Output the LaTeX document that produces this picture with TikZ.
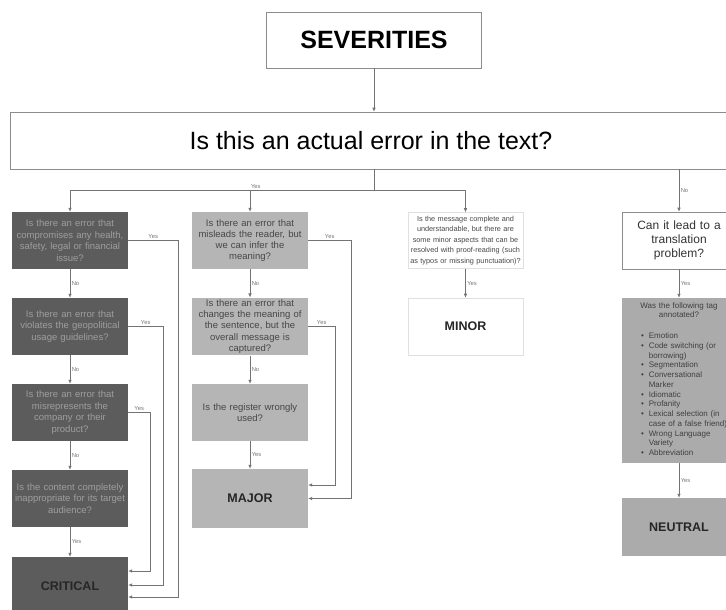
\documentclass[tikz,border=0pt]{standalone}
\usepackage{fontspec}
\setmainfont{Liberation Sans}
\usetikzlibrary{positioning, calc, arrows.meta}

\begin{document}
\begin{tikzpicture}[x=1pt, y=-1pt, >={Latex[length=4pt,width=3.5pt]},
    conn/.style={draw=black!55, line width=0.6pt},
    lbl/.style={font=\fontsize{5.8}{6}\selectfont, text=black!55, inner sep=1.5pt},
    qbox/.style={draw=black!45, line width=0.6pt, fill=white, align=center, inner sep=2pt},
    crit/.style={fill=black!64, text=black!38, align=center, text width=112pt, minimum height=57pt, inner sep=2pt, font=\fontsize{9.5}{11.5}\selectfont},
    major/.style={fill=black!29, text=black!72, align=center, text width=112pt, minimum height=57pt, inner sep=2pt, font=\fontsize{9.5}{11.2}\selectfont},
    minor/.style={draw=black!12, line width=0.6pt, fill=white, text=black!72, align=center, text width=111pt, minimum height=56pt, inner sep=2pt, font=\fontsize{7.3}{10.5}\selectfont},
    neutral/.style={fill=black!33, text=black!75, align=center, text width=110pt, inner sep=2pt},
    result/.style={font=\fontsize{12.5}{15}\selectfont\bfseries, text=black!85}
  ]
  \useasboundingbox (0,0) rectangle (726,610);

  % top
  \node[qbox, minimum width=215pt, minimum height=56pt, font=\fontsize{25}{30}\selectfont\bfseries] (sev) at (374,40) {SEVERITIES};
  \node[qbox, minimum width=722pt, minimum height=57pt, font=\fontsize{25}{30}\selectfont] (err) at (371,140.5) {Is this an actual error in the text?};

  % critical column
  \node[crit] (c1) at (70,240.5) {Is there an error that\\compromises any health,\\safety, legal or financial\\issue?};
  \node[crit] (c2) at (70,326.5) {Is there an error that\\violates the geopolitical\\usage guidelines?};
  \node[crit] (c3) at (70,412.5) {Is there an error that\\misrepresents the\\company or their\\product?};
  \node[crit] (c4) at (70,498.5) {Is the content completely\\inappropriate for its target\\audience?};
  \node[crit, result, minimum height=58pt] (critical) at (70,586) {CRITICAL};

  % major column
  \node[major] (m1) at (250,240.5) {Is there an error that\\misleads the reader, but\\we can infer the\\meaning?};
  \node[major] (m2) at (250,326.5) {Is there an error that\\changes the meaning of\\the sentence, but the\\overall message is\\captured?};
  \node[major] (m3) at (250,412.5) {Is the register wrongly\\used?};
  \node[major, result, minimum height=59pt] (major) at (250,498.5) {MAJOR};

  % minor column
  \node[minor] (mq) at (465.5,240.5) {Is the message complete and\\understandable, but there are\\some minor aspects that can be\\resolved with proof-reading (such\\as typos or missing punctuation)?};
  \node[minor, result, minimum height=57pt] (minor) at (465.5,326.5) {MINOR};

  % neutral column
  \node[qbox, text width=110pt, minimum height=57pt, font=\fontsize{12}{14}\selectfont, text=black!80] (rq) at (679,240.5) {Can it lead to a\\translation\\problem?};
  \node[neutral, minimum height=165pt, font=\fontsize{8}{9.75}\selectfont] (tags) at (679,380.5) {Was the following tag\\annotated?\\[11pt]
    \makebox[110pt][l]{\hspace{17pt}\begin{tabular}[t]{@{}l@{\hspace{5pt}}l@{}}
      \textbullet & Emotion\\
      \textbullet & Code switching (or\\
                  & borrowing)\\
      \textbullet & Segmentation\\
      \textbullet & Conversational\\
                  & Marker\\
      \textbullet & Idiomatic\\
      \textbullet & Profanity\\
      \textbullet & Lexical selection (in\\
                  & case of a false friend)\\
      \textbullet & Wrong Language\\
                  & Variety\\
      \textbullet & Abbreviation
    \end{tabular}}};
  \node[neutral, result, minimum height=58pt] (neutral) at (679,527) {NEUTRAL};

  % connectors
  \coordinate (j) at (374,190);
  \draw[conn,->] (sev.south) -- (sev.south |- err.north);
  \draw[conn] (j |- err.south) -- (j);
  \draw[conn] (c1.north |- j) -- node[lbl, above, pos=0.47] {Yes} (mq.north |- j);
  \draw[conn,->] (c1.north |- j) -- (c1);
  \draw[conn,->] (m1.north |- j) -- (m1);
  \draw[conn,->] (mq.north |- j) -- (mq);
  \draw[conn,->] (err.south -| rq.north) -- node[lbl, right] {No} (rq);

  \draw[conn,->] (c1) -- node[lbl, right] {No} (c2);
  \draw[conn,->] (c2) -- node[lbl, right] {No} (c3);
  \draw[conn,->] (c3) -- node[lbl, right] {No} (c4);
  \draw[conn,->] (c4) -- node[lbl, right] {Yes} (critical);

  \draw[conn,->] (m1) -- node[lbl, right] {No} (m2);
  \draw[conn,->] (m2) -- node[lbl, right] {No} (m3);
  \draw[conn,->] (m3) -- node[lbl, right] {Yes} (major);

  \draw[conn,->] (mq) -- node[lbl, right] {Yes} (minor);
  \draw[conn,->] (rq) -- node[lbl, right] {Yes} (tags);
  \draw[conn,->] (tags) -- node[lbl, right] {Yes} (neutral);

  % yes branches
  \draw[conn,->] (c1.east) -- node[lbl, above] {Yes} ++(50,0) |- ([yshift=-11pt]critical.east);
  \draw[conn,->] (c2.east) -- node[lbl, above] {Yes} ++(35,0) |- ([yshift=1pt]critical.east);
  \draw[conn,->] (c3.east) -- node[lbl, above] {Yes} ++(22,0) |- ([yshift=15pt]critical.east);
  \draw[conn,->] (m1.east) -- node[lbl, above] {Yes} ++(43,0) |- (major.east);
  \draw[conn,->] (m2.east) -- node[lbl, above] {Yes} ++(27,0) |- ([yshift=13.5pt]major.east);
\end{tikzpicture}
\end{document}
